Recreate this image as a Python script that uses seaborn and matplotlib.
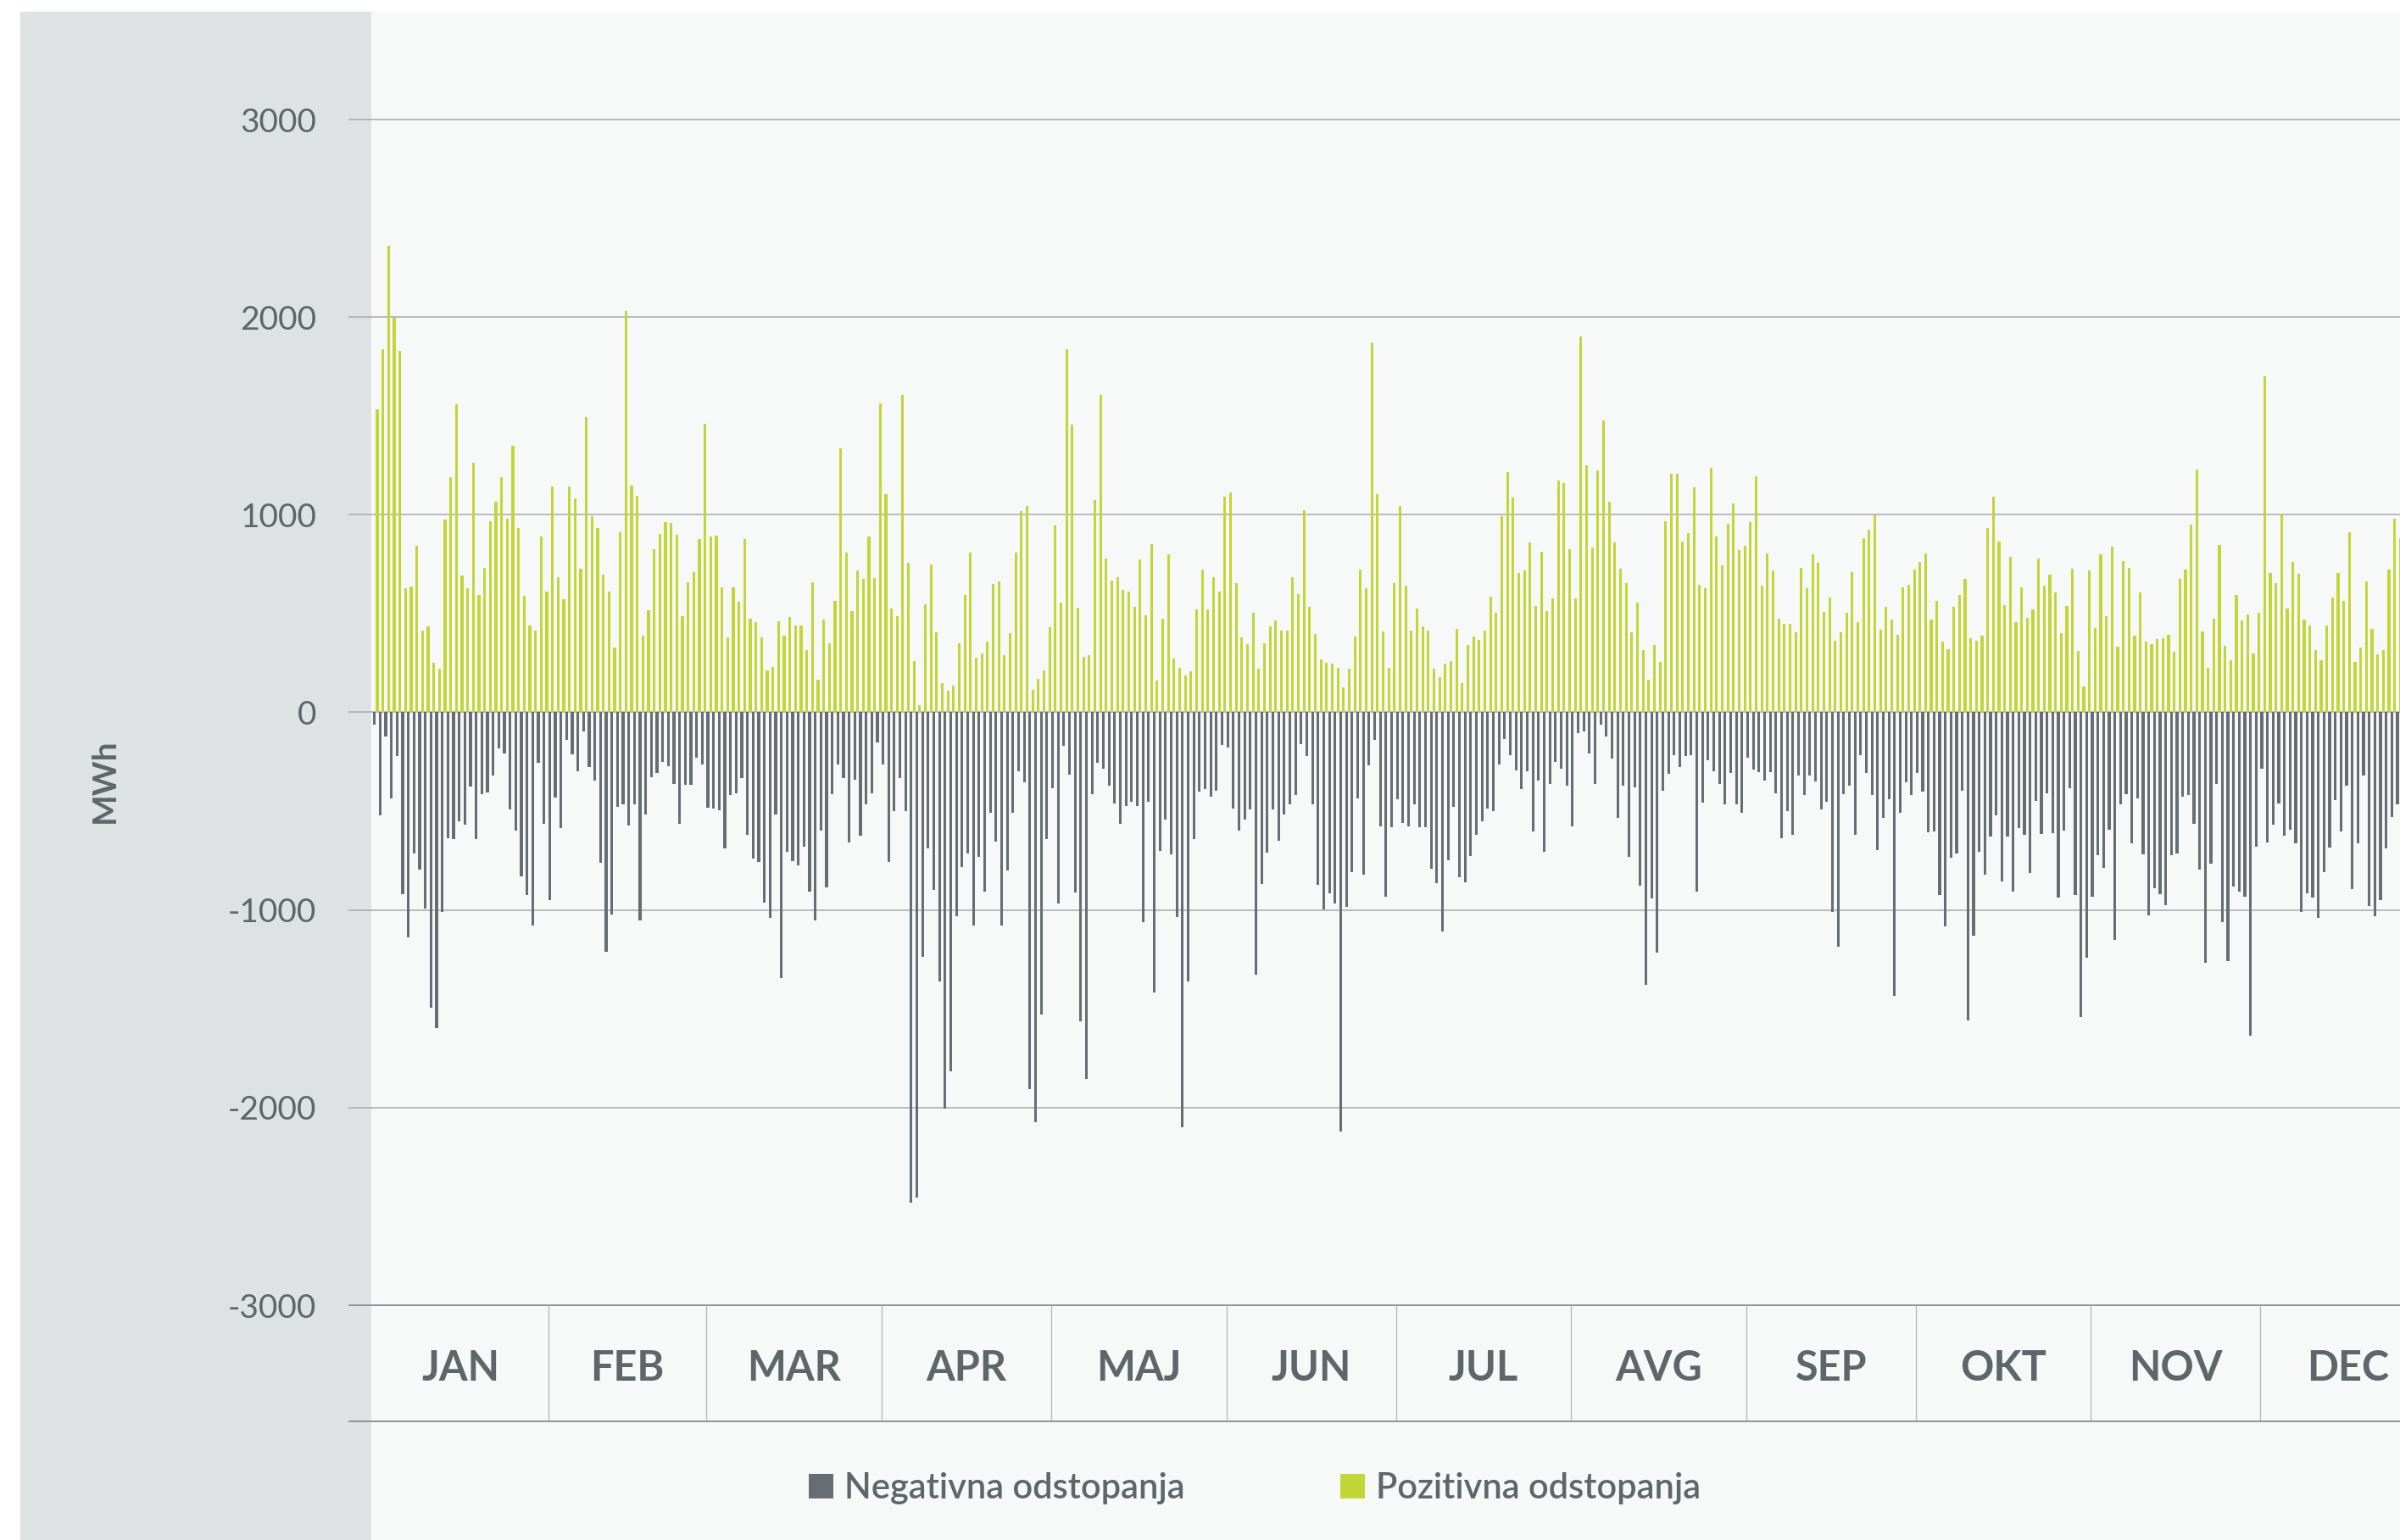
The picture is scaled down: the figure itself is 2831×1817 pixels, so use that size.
import numpy as np
import pandas as pd
import seaborn as sns
import matplotlib.pyplot as plt
from matplotlib.patches import Rectangle

# daily deviations in MWh (Jan 1 .. Dec 25, the rest of December is cut off)
pozitivna = [
    1533, 1838, 2363, 1995, 1830, 630, 638, 841, 415, 435,
    251, 222, 975, 1189, 1560, 693, 630, 1265, 596, 733,
    966, 1067, 1192, 978, 1349, 934, 588, 441, 415, 892,
    612, 1143, 685, 571, 1143, 1083, 727, 1496, 991, 931,
    699, 613, 329, 911, 2031, 1147, 1097, 390, 515, 825,
    903, 963, 959, 900, 487, 657, 708, 877, 1459, 892,
    895, 632, 378, 633, 560, 878, 473, 456, 378, 211,
    229, 460, 388, 484, 441, 438, 315, 657, 164, 470,
    348, 565, 1338, 807, 513, 719, 677, 892, 679, 1562,
    1104, 526, 487, 1605, 758, 261, 37, 548, 749, 406,
    148, 111, 137, 349, 593, 810, 278, 296, 356, 651,
    663, 290, 399, 810, 1020, 1045, 114, 170, 211, 429,
    944, 555, 1839, 1457, 530, 282, 290, 1073, 1607, 780,
    669, 683, 621, 612, 535, 772, 491, 852, 159, 476,
    800, 273, 226, 186, 207, 519, 722, 521, 686, 612,
    1092, 1114, 655, 379, 346, 502, 222, 349, 434, 465,
    415, 413, 683, 597, 1023, 534, 398, 268, 251, 248,
    226, 126, 223, 382, 722, 627, 1870, 1104, 410, 226,
    652, 1045, 640, 412, 524, 434, 415, 222, 176, 245,
    261, 421, 148, 340, 382, 367, 415, 587, 502, 991,
    1217, 1087, 707, 719, 858, 540, 811, 512, 577, 1173,
    1162, 825, 577, 1900, 1251, 835, 1223, 1479, 1064, 858,
    725, 654, 406, 554, 315, 165, 343, 254, 969, 1209,
    1207, 866, 909, 1140, 644, 629, 1239, 891, 744, 955,
    1058, 821, 844, 964, 1195, 641, 803, 719, 473, 449,
    448, 406, 730, 630, 800, 758, 510, 582, 363, 406,
    502, 711, 456, 881, 925, 995, 418, 535, 468, 393,
    633, 647, 721, 760, 803, 468, 562, 359, 320, 534,
    596, 674, 376, 362, 387, 931, 1092, 864, 541, 788,
    457, 633, 479, 521, 778, 640, 696, 607, 402, 538,
    727, 312, 129, 719, 427, 800, 487, 839, 332, 766,
    730, 387, 607, 356, 345, 371, 376, 393, 307, 675,
    722, 948, 1228, 409, 225, 476, 847, 337, 264, 594,
    466, 496, 296, 504, 1700, 707, 652, 1006, 526, 760,
    702, 470, 438, 317, 262, 438, 579, 707, 566, 911,
    254, 328, 663, 423, 292, 317, 721, 981, 880,
]
negativna = [
    -61, -520, -123, -436, -223, -920, -1138, -716, -797, -993,
    -1495, -1598, -1011, -639, -641, -552, -570, -375, -641, -415,
    -405, -320, -184, -210, -490, -598, -830, -923, -1079, -256,
    -564, -949, -431, -585, -139, -211, -297, -95, -275, -344,
    -762, -1211, -1023, -479, -464, -574, -466, -1054, -515, -328,
    -305, -249, -272, -364, -562, -367, -366, -228, -262, -482,
    -487, -495, -689, -418, -408, -331, -620, -741, -757, -964,
    -1038, -518, -1343, -705, -752, -774, -680, -908, -1054, -597,
    -885, -416, -264, -334, -659, -341, -625, -464, -411, -152,
    -262, -756, -498, -333, -498, -2482, -2457, -1236, -687, -897,
    -1362, -2007, -1818, -1030, -784, -713, -1080, -730, -908, -510,
    -654, -1077, -802, -507, -298, -354, -1905, -2072, -1531, -643,
    -385, -967, -169, -316, -910, -1564, -1856, -416, -256, -284,
    -370, -459, -564, -472, -452, -475, -1061, -452, -1418, -703,
    -544, -720, -1034, -2100, -1361, -643, -402, -387, -425, -395,
    -166, -179, -485, -598, -544, -492, -1326, -867, -710, -490,
    -651, -516, -464, -420, -162, -223, -466, -872, -997, -916,
    -966, -2121, -985, -810, -434, -823, -266, -141, -575, -933,
    -580, -439, -559, -577, -467, -580, -580, -790, -866, -1107,
    -748, -477, -834, -862, -728, -618, -552, -485, -498, -264,
    -133, -215, -292, -389, -298, -602, -344, -705, -361, -249,
    -284, -370, -577, -105, -98, -208, -362, -64, -123, -234,
    -536, -372, -733, -380, -875, -1379, -943, -1215, -395, -310,
    -216, -277, -223, -215, -905, -457, -243, -300, -364, -466,
    -305, -467, -508, -231, -289, -302, -346, -303, -411, -638,
    -500, -620, -318, -420, -318, -349, -489, -454, -1010, -1187,
    -413, -372, -618, -216, -305, -420, -698, -536, -439, -1433,
    -508, -354, -418, -307, -402, -608, -602, -923, -1085, -736,
    -716, -398, -1559, -1131, -705, -823, -630, -520, -856, -628,
    -905, -587, -618, -811, -449, -615, -410, -611, -936, -598,
    -384, -923, -1543, -1243, -931, -723, -789, -592, -1152, -466,
    -413, -664, -434, -720, -1026, -889, -920, -977, -723, -715,
    -428, -420, -566, -795, -1269, -767, -361, -1062, -1257, -880,
    -907, -931, -1638, -679, -284, -659, -570, -462, -626, -592,
    -664, -1010, -915, -939, -1039, -808, -684, -446, -603, -369,
    -895, -661, -318, -980, -1031, -952, -690, -530, -467,
]
mjeseci = ['JAN', 'FEB', 'MAR', 'APR', 'MAJ', 'JUN', 'JUL', 'AVG', 'SEP', 'OKT', 'NOV', 'DEC']
dani_u_mjesecu = [31, 28, 31, 30, 31, 30, 31, 31, 30, 31, 30, 31]
y_oznake = [-3000, -2000, -1000, 0, 1000, 2000, 3000]

siva = '#676d72'
zelena = '#c3d637'
tekst = '#5f666a'

# long format for seaborn: one row per day and series
n = len(pozitivna)
df = pd.DataFrame({
    'dan': list(range(n)) * 2,
    'MWh': negativna + pozitivna,
    'serija': ['Negativna odstopanja'] * n + ['Pozitivna odstopanja'] * n,
})

sns.set_style('white')
plt.rcParams['font.family'] = ['Lato', 'DejaVu Sans']

W, H = 2831, 1817
fig = plt.figure(figsize=(W / 100, H / 100), dpi=100)
fig.patch.set_facecolor('white')
# grey side panel + light background behind the plot
fig.add_artist(Rectangle((24 / W, 0), (438 - 24) / W, 1 - 14 / H, transform=fig.transFigure,
                         color='#dfe2e3', zorder=-10))
fig.add_artist(Rectangle((438 / W, 0), 1 - 438 / W, 1 - 14 / H, transform=fig.transFigure,
                         color='#f7f8f8', zorder=-10))

# axes runs past the right edge on purpose, the end of December is cut off like in the original
ax = fig.add_axes([440 / W, 1 - 1540 / H, 2433 / W, 1399 / H])
ax.set_facecolor('none')

sns.barplot(data=df, x='dan', y='MWh', hue='serija', palette=[siva, zelena], saturation=1,
            width=1.0, gap=0.05, errorbar=None, linewidth=0, ax=ax, zorder=3)

ax.set_xlim(-0.5, sum(dani_u_mjesecu) - 0.5)
ax.set_ylim(-3000, 3000)
ax.set_xticks([])
ax.set_xlabel('')
ax.set_ylabel('')
ax.set_yticks(y_oznake)
ax.set_yticklabels([str(v) for v in y_oznake], fontsize=28, color=tekst)
ax.tick_params(axis='y', length=0, pad=48)
sns.despine(ax=ax, left=True, bottom=True)

# gridlines reach a bit into the grey panel
ytr = ax.get_yaxis_transform()
ax.hlines([v for v in y_oznake if v > -3000], -0.012, 1, transform=ytr,
          color='#a6a9ac', lw=1.1, zorder=0, clip_on=False)
ax.hlines(-3000, -0.012, 1, transform=ytr, color='#8f9396', lw=1.4, zorder=0, clip_on=False)

# month band under the plot
xtr = ax.get_xaxis_transform()
dno = -137 / 1399
kraj = np.cumsum(dani_u_mjesecu)
ax.vlines(kraj - 0.5, dno, 0, transform=xtr, color='#b3b6b8', lw=0.9, clip_on=False)
ax.hlines(dno, -0.012, 1, transform=ax.transAxes, color='#8f9396', lw=1.4, clip_on=False)
for ime, k, d in zip(mjeseci, kraj, dani_u_mjesecu):
    ax.text(k - d / 2 - 0.5, -74 / 1399, ime, transform=xtr, ha='center', va='center',
            fontsize=35, fontweight='bold', color=tekst)

fig.text(123 / W, 1 - 921 / H, 'MWh', rotation=90, ha='center', va='center',
         fontsize=28, fontweight='bold', color=tekst)

sns.move_legend(ax, 'center', bbox_to_anchor=(1480 / W, 1 - 1756 / H), bbox_transform=fig.transFigure,
                ncol=2, frameon=False, title=None, prop={'size': 30, 'weight': 'semibold'},
                handlelength=0.7, handleheight=0.7, handletextpad=0.3, columnspacing=4.4,
                labelcolor=tekst)

fig.savefig('out.png', dpi=100)
